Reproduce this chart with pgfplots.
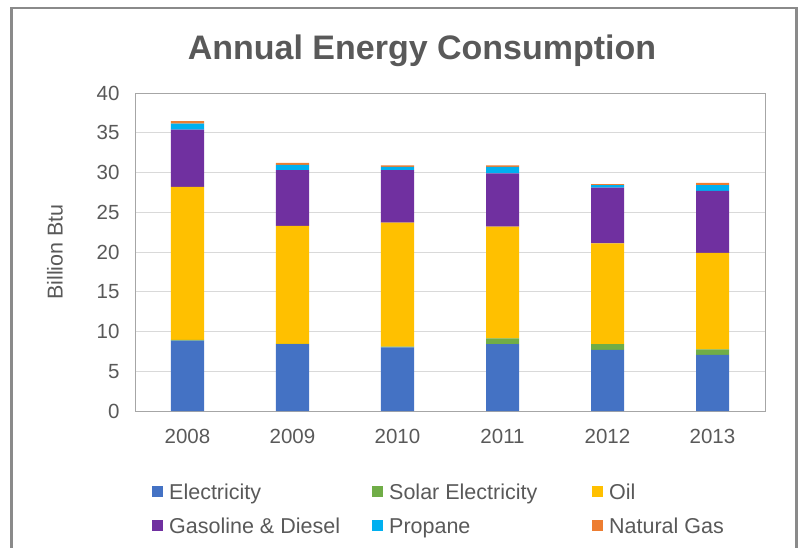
\documentclass[border=0pt]{standalone}
\usepackage{pgfplots}
\pgfplotsset{compat=1.18}
\usepackage{fontspec}
\setmainfont{Liberation Sans}

\definecolor{elec}{HTML}{4472C4}
\definecolor{solar}{HTML}{70AD47}
\definecolor{oil}{HTML}{FFC000}
\definecolor{gasd}{HTML}{7030A0}
\definecolor{propane}{HTML}{00B0F0}
\definecolor{natgas}{HTML}{ED7D31}
\definecolor{txt}{HTML}{595959}

% legend entry text of fixed width, with the gap after the square
\newcommand{\lent}[2]{\makebox[#1][l]{\hspace*{4bp}\strut #2}}

\begin{document}
\begin{tikzpicture}
  \path[use as bounding box] (0,0) rectangle (804bp,548bp);
  % outer chart frame
  \draw[line width=2.6bp, color=black!46] (11.3bp,-10bp) -- (11.3bp,540bp) -- (796.3bp,540bp) -- (796.3bp,-10bp);

  \node[anchor=base, font=\bfseries\fontsize{34bp}{40bp}\selectfont, text=txt]
    at (422bp,488bp) {Annual Energy Consumption};

  \begin{axis}[
      at={(135bp,137bp)}, anchor=south west,
      scale only axis,
      width=630bp, height=318bp,
      ybar stacked,
      bar width=33bp,
      xmin=-0.5, xmax=5.5,
      ymin=0, ymax=40,
      xtick={0,1,2,3,4,5},
      xticklabels={2008,2009,2010,2011,2012,2013},
      ytick={0,5,...,40},
      major tick length=0pt,
      ymajorgrids,
      grid style={color=black!15, line width=0.9bp},
      axis line style={color=black!35, line width=0.9bp},
      tick label style={font=\fontsize{20.5bp}{24bp}\selectfont, text=txt},
      /pgf/number format/assume math mode=true,
      yticklabel style={xshift=-12bp},
      xticklabel style={yshift=-15bp},
      ylabel={Billion Btu},
      ylabel style={at={(axis description cs:-0.127,0.5)}, anchor=center, rotate=0,
                    font=\fontsize{21.5bp}{24bp}\selectfont, text=txt},
      legend columns=3,
      legend cell align=left,
      legend image code/.code={\fill[#1] (0bp,-5.5bp) rectangle (11bp,5.5bp);},
      legend style={at={(0.027,-0.216)}, anchor=north west, draw=none, fill=none,
                    inner sep=0pt, row sep=11bp,
                    font=\fontsize{21.5bp}{25bp}\selectfont, text=txt},
    ]
    \addplot[draw=none, fill=elec] coordinates {(0,8.85) (1,8.4) (2,8.0) (3,8.4) (4,7.7) (5,7.05)};
    \addlegendentry{\lent{205bp}{Electricity}}
    \addplot[draw=none, fill=solar] coordinates {(0,0.1) (1,0.05) (2,0.1) (3,0.75) (4,0.7) (5,0.7)};
    \addlegendentry{\lent{205bp}{Solar Electricity}}
    \addplot[draw=none, fill=oil] coordinates {(0,19.25) (1,14.85) (2,15.6) (3,14.05) (4,12.7) (5,12.15)};
    \addlegendentry{\lent{150bp}{Oil}}
    \addplot[draw=none, fill=gasd] coordinates {(0,7.2) (1,7.0) (2,6.6) (3,6.7) (4,7.0) (5,7.8)};
    \addlegendentry{\lent{205bp}{Gasoline \& Diesel}}
    \addplot[draw=none, fill=propane] coordinates {(0,0.75) (1,0.65) (2,0.4) (3,0.8) (4,0.3) (5,0.7)};
    \addlegendentry{\lent{205bp}{Propane}}
    \addplot[draw=none, fill=natgas] coordinates {(0,0.3) (1,0.25) (2,0.2) (3,0.2) (4,0.15) (5,0.3)};
    \addlegendentry{\lent{150bp}{Natural Gas}}
  \end{axis}
\end{tikzpicture}
\end{document}
